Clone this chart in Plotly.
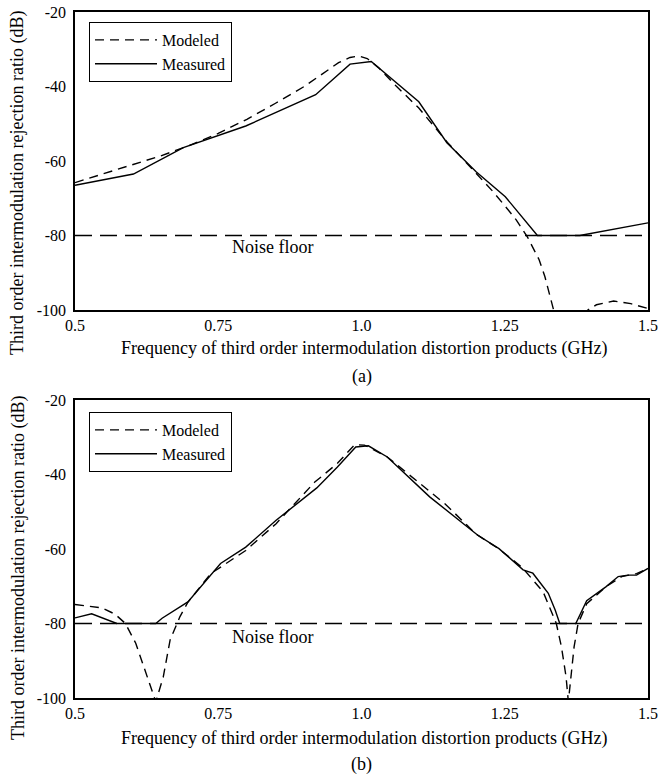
import plotly.graph_objects as go

# ---------------- data ----------------
x_ticks = [0.5, 0.75, 1.0, 1.25, 1.5]
x_tick_labels = ["0.5", "0.75", "1.0", "1.25", "1.5"]
y_ticks = [-100, -80, -60, -40, -20]
y_tick_labels = ["-100", "-80", "-60", "-40", "-20"]
noise_floor = -80

# (a) modeled
a_mod_x = [0.5, 0.55, 0.60, 0.65, 0.70, 0.75, 0.80, 0.85, 0.90, 0.93, 0.96, 0.98, 0.995,
           1.01, 1.03, 1.06, 1.10, 1.15, 1.20, 1.23, 1.25, 1.27, 1.29, 1.31, 1.32, 1.33,
           1.337, 1.365, 1.38, 1.395, 1.41, 1.44, 1.47, 1.5]
a_mod_y = [-65.8, -63.5, -61.0, -58.6, -55.8, -52.6, -48.8, -44.5, -40.0, -36.8, -33.6, -32.2, -31.8,
           -32.5, -35.0, -39.8, -45.8, -55.0, -63.3, -68.3, -72.0, -75.8, -80.5, -86.5, -91.0, -97.0,
           -101.0, -115.0, -104.0, -100.0, -98.6, -97.6, -98.3, -99.6]
# (a) measured
a_meas_x = [0.5, 0.602, 0.689, 0.798, 0.920, 0.980, 1.017, 1.100, 1.149, 1.200, 1.251, 1.307, 1.381, 1.5]
a_meas_y = [-66.5, -63.5, -56.4, -50.6, -42.2, -34.0, -33.3, -44.1, -55.1, -62.9, -69.6, -80.0, -80.0, -76.6]

# (b) modeled
b_mod_x = [0.5, 0.547, 0.57, 0.588, 0.606, 0.627, 0.641, 0.654, 0.666, 0.683, 0.697, 0.737, 0.798,
           0.851, 0.918, 0.958, 0.988, 1.005, 1.045, 1.146, 1.2, 1.24, 1.28, 1.317, 1.34, 1.349,
           1.357, 1.361, 1.366, 1.371, 1.378, 1.393, 1.427, 1.454, 1.48, 1.5]
b_mod_y = [-74.9, -75.8, -77.5, -80.0, -85.3, -94.4, -101.0, -94.4, -84.4, -78.2, -74.3, -66.6, -60.4,
           -53.2, -42.1, -37.0, -32.0, -32.1, -35.3, -47.9, -56.0, -60.0, -64.9, -71.5, -80.0, -86.3,
           -94.3, -101.0, -94.3, -86.3, -80.0, -74.7, -70.1, -67.4, -66.6, -65.2]
# (b) measured
b_meas_x = [0.5, 0.529, 0.573, 0.641, 0.652, 0.697, 0.754, 0.798, 0.851, 0.922, 0.958, 0.99, 1.012,
            1.045, 1.119, 1.203, 1.240, 1.282, 1.299, 1.326, 1.338, 1.346, 1.374, 1.393, 1.427,
            1.448, 1.465, 1.48, 1.5]
b_meas_y = [-78.5, -77.4, -80.0, -80.0, -78.6, -74.2, -63.9, -59.5, -52.3, -43.6, -38.0, -32.6, -32.3,
            -35.3, -46.0, -56.3, -59.9, -65.6, -66.5, -71.9, -76.4, -80.0, -80.0, -73.9, -70.1,
            -67.4, -67.0, -67.0, -65.2]

y_title = "Third order intermodulation rejection ratio (dB)"
x_title = "Frequency of third order intermodulation distortion products (GHz)"

# ---------------- figure ----------------
W, H = 663, 778
FONT = "Liberation Serif"

def px_y(p):
    return 1 - p / H

def px_x(p):
    return p / W

fig = go.Figure()

panels = [
    dict(xa="x", ya="y", legend="legend", mod=(a_mod_x, a_mod_y), meas=(a_meas_x, a_meas_y)),
    dict(xa="x2", ya="y2", legend="legend2", mod=(b_mod_x, b_mod_y), meas=(b_meas_x, b_meas_y)),
]

for p in panels:
    fig.add_trace(go.Scatter(x=p["mod"][0], y=p["mod"][1], mode="lines", name="Modeled",
                             line=dict(color="black", width=1.4, dash="9px,6px"),
                             xaxis=p["xa"], yaxis=p["ya"], legend=p["legend"]))
    fig.add_trace(go.Scatter(x=p["meas"][0], y=p["meas"][1], mode="lines", name="Measured",
                             line=dict(color="black", width=1.4),
                             xaxis=p["xa"], yaxis=p["ya"], legend=p["legend"]))
    fig.add_trace(go.Scatter(x=[x_ticks[0], x_ticks[-1]], y=[noise_floor, noise_floor], mode="lines",
                             line=dict(color="black", width=1.4, dash="17px,8px"),
                             showlegend=False, xaxis=p["xa"], yaxis=p["ya"]))

x_dom = [px_x(75), px_x(648)]
axis_common = dict(showline=True, mirror=True, linecolor="black", linewidth=1.5, automargin=False,
                   showgrid=False, zeroline=False, ticks="", ticklabeloverflow="allow",
                   tickfont=dict(size=16, color="black", family=FONT))

leg_common = dict(xanchor="left", yanchor="top", bordercolor="black", borderwidth=1, bgcolor="white",
                  font=dict(size=16, family=FONT, color="black"), itemwidth=62, tracegroupgap=0)

fig.update_layout(
    template="none",
    width=W, height=H,
    margin=dict(l=0, r=0, t=0, b=0, pad=0),
    paper_bgcolor="white", plot_bgcolor="white",
    font=dict(family=FONT, color="black", size=16),
    xaxis=dict(domain=x_dom, range=[0.5, 1.5], tickvals=x_ticks, ticktext=x_tick_labels,
               anchor="y", ticklabelstandoff=0, **axis_common),
    yaxis=dict(domain=[px_y(310), px_y(12)], range=[-100, -20], tickvals=y_ticks, ticktext=y_tick_labels,
               anchor="x", ticklabelstandoff=4, **axis_common),
    xaxis2=dict(domain=x_dom, range=[0.5, 1.5], tickvals=x_ticks, ticktext=x_tick_labels,
                anchor="y2", ticklabelstandoff=0, **axis_common),
    yaxis2=dict(domain=[px_y(698), px_y(400)], range=[-100, -20], tickvals=y_ticks, ticktext=y_tick_labels,
                anchor="x2", ticklabelstandoff=4, **axis_common),
    legend=dict(x=px_x(89), y=px_y(22), **leg_common),
    legend2=dict(x=px_x(89), y=px_y(412), **leg_common),
)

ann = []
for (xref, yref, yfl) in [("x", "y", -83.0), ("x2", "y2", -83.5)]:
    ann.append(dict(text="Noise floor", x=0.8455, y=yfl, xref=xref, yref=yref, showarrow=False,
                    font=dict(size=18, family=FONT, color="black"), xanchor="center", yanchor="middle"))
for yc in [183, 568]:
    ann.append(dict(text=y_title, x=px_x(18), y=px_y(yc), xref="paper", yref="paper", showarrow=False,
                    textangle=-90, font=dict(size=18, family=FONT, color="black"),
                    xanchor="center", yanchor="middle"))
for yc in [348, 738]:
    ann.append(dict(text=x_title, x=px_x(364), y=px_y(yc), xref="paper", yref="paper", showarrow=False,
                    font=dict(size=18, family=FONT, color="black"), xanchor="center", yanchor="middle"))
for lab, yc in [("(a)", 376), ("(b)", 764)]:
    ann.append(dict(text=lab, x=px_x(362), y=px_y(yc), xref="paper", yref="paper", showarrow=False,
                    font=dict(size=18, family=FONT, color="black"), xanchor="center", yanchor="middle"))
fig.update_layout(annotations=ann)

fig.write_html("out.html", config={"displayModeBar": False},
               post_script="document.body.style.margin='0px';document.body.style.overflow='hidden';")
